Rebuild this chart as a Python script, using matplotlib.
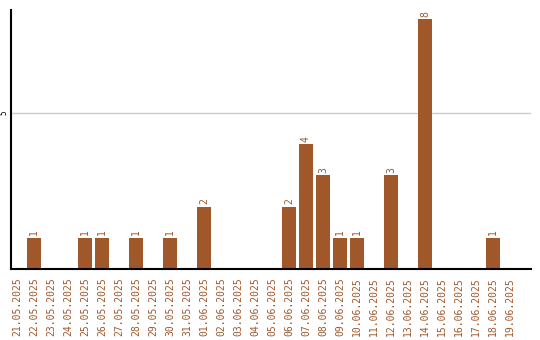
import matplotlib
matplotlib.use("Agg")
import matplotlib.pyplot as plt

dates = ["21.05.2025", "22.05.2025", "23.05.2025", "24.05.2025", "25.05.2025",
         "26.05.2025", "27.05.2025", "28.05.2025", "29.05.2025", "30.05.2025",
         "31.05.2025", "01.06.2025", "02.06.2025", "03.06.2025", "04.06.2025",
         "05.06.2025", "06.06.2025", "07.06.2025", "08.06.2025", "09.06.2025",
         "10.06.2025", "11.06.2025", "12.06.2025", "13.06.2025", "14.06.2025",
         "15.06.2025", "16.06.2025", "17.06.2025", "18.06.2025", "19.06.2025"]
counts = [0, 1, 0, 0, 1, 1, 0, 1, 0, 1, 0, 2, 0, 0, 0, 0, 2, 4, 3, 1, 1, 0, 3, 0, 8, 0, 0, 0, 1, 0]

brown = "#a0572a"
fig = plt.figure(figsize=(5.4, 3.4), dpi=100)
ax = fig.add_axes([11/540, 1 - 269/340, 520/540, 259/340])
x = list(range(len(dates)))
ax.bar(x, counts, width=0.82, color=brown, zorder=2)
for xi, c in zip(x, counts):
    if c > 0:
        ax.text(xi, c + 0.08, str(c), rotation=90, ha="center", va="bottom",
                color=brown, fontsize=7, family="DejaVu Sans Mono")
ax.set_xlim(-0.35, 30.24)
ax.set_ylim(0, 8.3)
ax.set_yticks([5])
ax.set_yticklabels(["5"], rotation=90, va="center", fontsize=5.5, family="DejaVu Sans Mono")
ax.set_xticks(x)
ax.set_xticklabels(dates, rotation=90, color=brown, fontsize=7, family="DejaVu Sans Mono")
ax.tick_params(axis="x", length=0, pad=6)
ax.tick_params(axis="y", length=0, pad=2)
ax.grid(axis="y", color="#cccccc", linewidth=1, zorder=0)
for s in ["top", "right"]:
    ax.spines[s].set_visible(False)
ax.spines["left"].set_color("black")
ax.spines["bottom"].set_color("black")
ax.spines["left"].set_linewidth(1.5)
ax.spines["bottom"].set_linewidth(1.5)
fig.savefig("out.png", dpi=100)
